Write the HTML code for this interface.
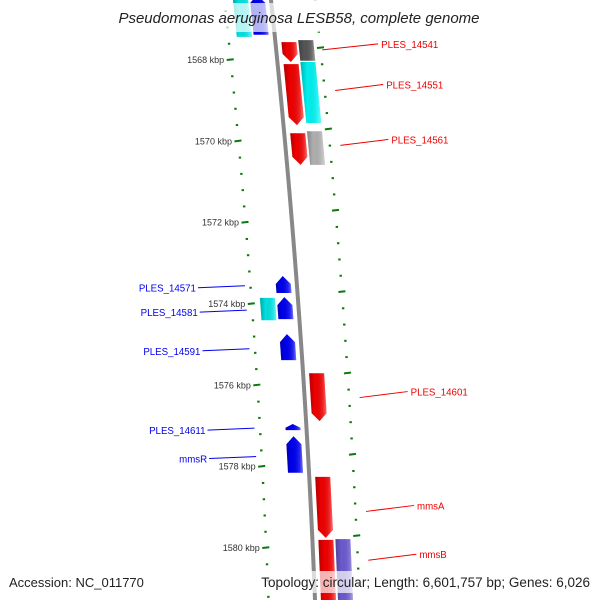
<!DOCTYPE html>
<html><head><meta charset="utf-8"><style>
html,body{margin:0;padding:0;background:#fff}
svg{display:block;font-family:"Liberation Sans","DejaVu Sans",sans-serif}
</style></head><body>
<svg id="map" width="600" height="600" viewBox="0 0 600 600" xmlns="http://www.w3.org/2000/svg">
<defs>
<linearGradient id="gshade" x1="0" x2="1" y1="0" y2="0">
<stop offset="0" stop-color="#000" stop-opacity="0.25"/>
<stop offset="0.35" stop-color="#000" stop-opacity="0"/>
<stop offset="0.8" stop-color="#fff" stop-opacity="0.15"/>
<stop offset="1" stop-color="#fff" stop-opacity="0.45"/>
</linearGradient>
</defs>
<g id="ticks"></g>
<path id="backbone" fill="none" stroke="#888" stroke-width="4"/>
<g id="genes"></g>
<g id="labels"></g>
<rect x="112" y="3" width="376" height="29" fill="#fff" opacity="0.7"/>
<text x="299" y="23" text-anchor="middle" font-size="15" font-style="italic" fill="#222">Pseudomonas aeruginosa LESB58, complete genome</text>
<rect x="255" y="571" width="340" height="22" fill="#fff" opacity="0.7"/>
<text x="9" y="587" font-size="13" fill="#222">Accession: NC_011770</text>
<text x="590" y="587" text-anchor="end" font-size="13.5" fill="#222">Topology: circular; Length: 6,601,757 bp; Genes: 6,026</text>
</svg>
<script>
// gene data
const geneNames  = ["", "PLES_14541", "", "PLES_14551", "", "PLES_14561", "", "PLES_14601", "mmsA", "mmsB", "", "", "", "PLES_14571", "PLES_14581", "", "PLES_14591", "PLES_14611", "mmsR"];
const geneStarts = [1566.52, 1567.56, 1567.51, 1568.10, 1568.05, 1569.80, 1569.75, 1575.70, 1578.25, 1579.80, 1579.78, 1566.40, 1566.40, 1573.31, 1573.83, 1573.85, 1574.74, 1576.95, 1577.25];
const geneEnds   = [1567.43, 1568.05, 1568.02, 1569.60, 1569.55, 1570.58, 1570.58, 1576.88, 1579.75, 1581.30, 1581.30, 1567.43, 1567.38, 1573.73, 1574.37, 1574.40, 1575.38, 1577.10, 1578.15];
const geneStrand = [-1, 1, 1, 1, 1, 1, 1, 1, 1, 1, 1, -1, -1, -1, -1, -1, -1, -1, -1];
const geneRing   = [2, 1, 2, 1, 2, 1, 2, 1, 1, 1, 2, 2, 1, 1, 1, 2, 1, 1, 1];
const geneColor  = ["#00e0e0", "#ee0000", "#555555", "#ee0000", "#00f0f0", "#ee0000", "#b0b0b0", "#ee0000", "#ee0000", "#ee0000", "#6a5acd", "#00e0e0", "#0000ee", "#0000ee", "#0000ee", "#00e0e0", "#0000ee", "#0000ee", "#0000ee"];
const geneArrow  = [false, true, false, true, false, true, false, true, true, false, false, false, true, true, true, false, true, true, true];
// label anchor points (kbp along sequence)
const labelKbp = [0, 1567.75, 0, 1568.75, 0, 1570.1, 0, 1576.3, 1579.1, 1580.3, 0, 0, 0, 1573.55, 1574.15, 0, 1575.1, 1577.05, 1577.75];
// axis ticks
const majorKbp = [1568, 1570, 1572, 1574, 1576, 1578, 1580];
const majorLabels = ["1568 kbp", "1570 kbp", "1572 kbp", "1574 kbp", "1576 kbp", "1578 kbp", "1580 kbp"];

const NS = "http://www.w3.org/2000/svg";
function yOf(k){ return 60 + (k - 1568) * 40.67; }
function bbX(y){ return 271 + 0.1067 * y - 5.56e-5 * y * y; }
function mk(tag, attrs, parent){ const e=document.createElementNS(NS,tag); for(const k in attrs) e.setAttribute(k,attrs[k]); parent.appendChild(e); return e; }

let d=""; for(let y=-5;y<=605;y+=5){ d+=(y===-5?"M":"L")+bbX(y).toFixed(2)+" "+y+" "; }
document.getElementById("backbone").setAttribute("d",d);

const tg=document.getElementById("ticks");
for(let k=1566.0;k<=1581.6;k+=0.4){
  const kk=Math.round(k*10)/10;
  const isMaj = Math.abs(kk/2-Math.round(kk/2))<0.01;
  let y=yOf(kk), x=bbX(y)-46.5;
  let t=mk("line",{x1:x-(isMaj?4:1.2),x2:x+(isMaj?3:1.2),y1:y,y2:y+(isMaj?-0.8:0),stroke:"#0a7a0a","stroke-width":2},tg);
  
  
  let y2=yOf(kk)-12, x2=bbX(y2)+44.5;
  let t2=mk("line",{x1:x2-(isMaj?3.5:1.2),x2:x2+(isMaj?3.5:1.2),y1:y2,y2:y2+(isMaj?-0.8:0),stroke:"#0a7a0a","stroke-width":2},tg);
  
  
}
majorKbp.forEach((k,i)=>{
  const y=yOf(k), x=bbX(y)-53;
  const t=mk("text",{x:x,y:y+3,"text-anchor":"end","font-size":"9",fill:"#333"},tg);
  t.textContent=majorLabels[i];
  
  
});

const gg=document.getElementById("genes");
const lg=document.getElementById("labels");
for(let i=0;i<geneStarts.length;i++){
  const y0=yOf(geneStarts[i]), y1=yOf(geneEnds[i]);
  const s=geneStrand[i], r=geneRing[i];
  const inner = r===1?6:23, outer = r===1?21:38;
  const o0 = s*inner, o1 = s*outer;
  const xa0=bbX(y0)+o0, xb0=bbX(y0)+o1, xa1=bbX(y1)+o0, xb1=bbX(y1)+o1;
  const L=Math.min(xa0,xb0), R=Math.max(xa0,xb0), L1=Math.min(xa1,xb1), R1=Math.max(xa1,xb1);
  const head=Math.min(8,(y1-y0)*0.6);
  let pts;
  if(!geneArrow[i]) pts=[[L,y0],[R,y0],[R1,y1],[L1,y1]];
  else if(s===1){ const ym=y1-head, cx=(L1+R1)/2, dx=bbX(ym)-bbX(y0);
    pts=[[L,y0],[R,y0],[R+dx,ym],[cx,y1],[L+dx,ym]]; }
  else { const ym=y0+head, cx=(L+R)/2, dx=bbX(ym)-bbX(y1);
    pts=[[cx,y0],[R1+dx,ym],[R1,y1],[L1,y1],[L1+dx,ym]]; }
  const p=pts.map(q=>q[0].toFixed(1)+","+q[1].toFixed(1)).join(" ");
  const g=mk("g",{},gg);
  
  
  mk("polygon",{points:p,fill:geneColor[i]},g);
  mk("polygon",{points:p,fill:"url(#gshade)"},g);
  if(geneNames[i]){
    const ly=yOf(labelKbp[i]);
    const col = s===1?"#ee0000":"#0000ee";
    let lx0, lx1, ty;
    if(s===1){ const off = ly<60?46:55; lx0=bbX(ly)+off; lx1=lx0+(ly<60?56:48); ty=ly-6; }
    else { lx0=bbX(ly)-52; lx1=lx0-47; ty=ly+2; }
    const ln=mk("line",{x1:lx0,y1:ly,x2:lx1,y2:ty,stroke:col,"stroke-width":1},lg);
    
    
    const t=mk("text",{x:s===1?lx1+3:lx1-2,y:ty+4,"font-size":"9.7",fill:col,"text-anchor":s===1?"start":"end"},lg);
    t.textContent=geneNames[i];
    
    
  }
}
</script>
</body></html>
